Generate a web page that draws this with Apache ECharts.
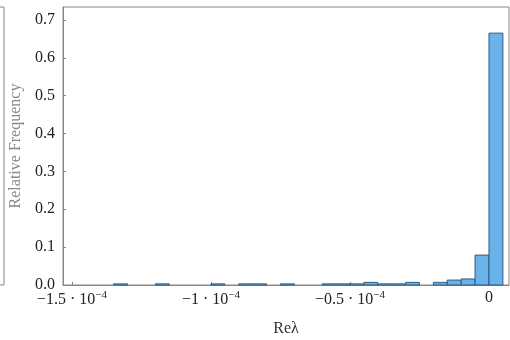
<!DOCTYPE html>
<html><head><meta charset="utf-8">
<script src="https://cdn.jsdelivr.net/npm/echarts@6/dist/echarts.min.js"></script>
<style>html,body{margin:0;padding:0;background:#fff}#c{width:510px;height:340px}</style>
</head><body><div id="c"></div>
<script>
// Histogram bins (left edge of each bin) and relative frequency
const binLo = [-1.35e-4, -1.2e-4, -1.0e-4, -9.0e-5, -8.5e-5, -7.5e-5, -6.0e-5, -5.5e-5, -5.0e-5, -4.5e-5, -4.0e-5, -3.5e-5, -3.0e-5, -2.0e-5, -1.5e-5, -1.0e-5, -5.0e-6, 0];
const freq  = [0.003, 0.003, 0.003, 0.003, 0.003, 0.003, 0.003, 0.003, 0.003, 0.007, 0.003, 0.003, 0.007, 0.007, 0.013, 0.016, 0.079, 0.665];
const binWidth = 5e-6;
const xTicks = [-1.5e-4, -1.0e-4, -0.5e-4, 0];
const xTickLabels = ['−1.5 · 10{s|−4}', '−1 · 10{s|−4}', '−0.5 · 10{s|−4}', '0'];
const yTicks = [0, 0.1, 0.2, 0.3, 0.4, 0.5, 0.6, 0.7];

const font = 'Liberation Serif';
const chart = echarts.init(document.getElementById('c'));
chart.setOption({
  animation: false,
  grid: {left: 63, right: 1, top: 7, bottom: 55, show: true, borderColor: '#888', borderWidth: 1, containLabel: false, outerBoundsMode: 'none'},
  graphic: [{type: 'rect', shape: {x: -100, y: 7, width: 104, height: 278}, style: {fill: 'none', stroke: '#888', lineWidth: 1}}],
  xAxis: {
    type: 'value', min: -1.532e-4, max: 7.2e-6,
    name: 'Reλ', nameLocation: 'middle', nameGap: 36,
    nameTextStyle: {fontFamily: font, fontSize: 16, color: '#333'},
    axisLine: {onZero: false, lineStyle: {color: '#888'}},
    splitLine: {show: false},
    axisTick: {inside: true, length: 3, customValues: xTicks, lineStyle: {color: '#888'}},
    axisLabel: {
      customValues: xTicks, fontFamily: font, fontSize: 16, color: '#222', margin: 5,
      formatter: v => { const i = xTicks.findIndex(t => Math.abs(t - v) < 1e-9); return i >= 0 ? xTickLabels[i] : ''; },
      rich: {s: {fontFamily: font, fontSize: 11, color: '#222', verticalAlign: 'top', padding: [0, 0, 9, 0]}}
    }
  },
  yAxis: {
    type: 'value', min: 0, max: 0.734,
    name: 'Relative Frequency', nameLocation: 'middle', nameGap: 34,
    nameTextStyle: {fontFamily: font, fontSize: 16, color: '#888'},
    axisLine: {show: true, onZero: false, lineStyle: {color: '#888'}},
    splitLine: {show: false},
    axisTick: {show: true, inside: true, length: 3, customValues: yTicks, lineStyle: {color: '#888'}},
    axisLabel: {customValues: yTicks, fontFamily: font, fontSize: 16, color: '#222', margin: 8, formatter: v => v.toFixed(1)}
  },
  series: [{
    type: 'custom',
    data: binLo.map((b, i) => [b, freq[i]]),
    renderItem: (params, api) => {
      const lo = api.value(0), h = api.value(1);
      const p0 = api.coord([lo, h]);
      const p1 = api.coord([lo + binWidth, 0]);
      return {type: 'rect', shape: {x: p0[0], y: p0[1], width: p1[0] - p0[0], height: p1[1] - p0[1]},
        style: {fill: '#6ab2ea', stroke: '#2f5b80', lineWidth: 1}};
    }
  }]
});
</script></body></html>
